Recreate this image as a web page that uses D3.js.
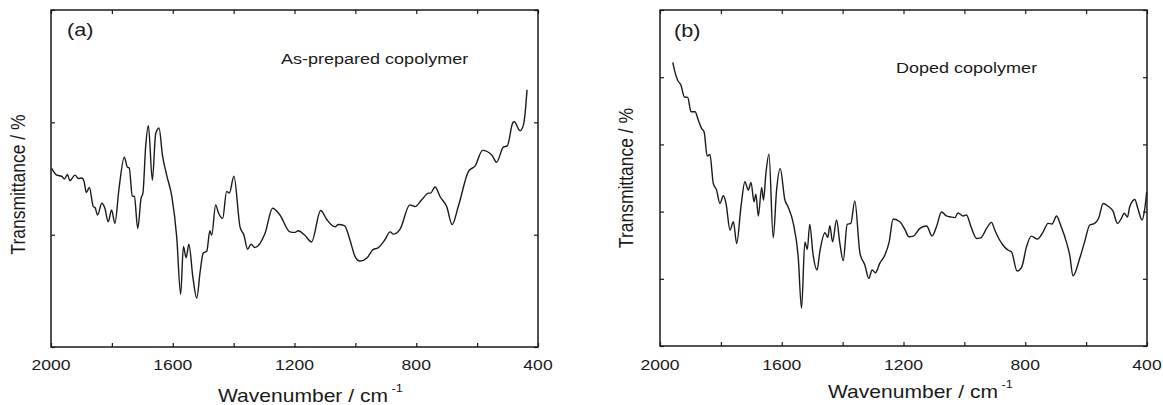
<!DOCTYPE html>
<html><head><meta charset="utf-8">
<script src="https://cdn.jsdelivr.net/npm/d3@7"></script>
<style>
body{margin:0;background:#fff}
svg{display:block;background:#fff}
text{font-family:"Liberation Sans",Arial,Helvetica,sans-serif;fill:#1a1a1a}
</style>
</head><body>
<svg id="c" width="1163" height="405"></svg>
<script>
// ---- data ----
const waveA = [1998,1981,1965,1956,1946,1938,1921,1910,1899,1891,
  1884,1874,1861,1855,1847,1833,1823,1812,1801,1790,
  1777,1759,1749,1743,1733,1726,1715,1704,1698,1689,
  1680,1667,1656,1645,1634,1620,1603,1587,1574,1565,
  1556,1547,1534,1521,1510,1500,1488,1478,1472,1459,
  1450,1436,1423,1414,1399,1379,1366,1354,1343,1330,
  1297,1272,1248,1215,1198,1188,1166,1144,1114,1094,
  1067,1056,1036,1018,1001,985,961,941,927,903,
  886,875,853,821,804,782,760,753,738,722,
  700,682,662,627,607,582,552,536,514,501,
  483,478,459,448,443,436];
const transA = [71.8,70.6,70.4,69.9,70.7,69.6,70.6,70.0,70.1,69.4,
  67.5,68.4,65.0,64.8,63.5,65.6,64.7,62.3,64.4,62.0,
  68.0,73.8,72.0,71.9,66.9,66.8,61.1,66.5,67.4,75.7,
  79.4,69.7,78.0,79.0,74.2,70.6,66.8,59.6,49.4,57.9,
  55.9,58.3,52.5,48.7,53.4,56.7,57.1,60.7,59.9,65.3,
  63.9,62.9,67.7,67.4,70.4,61.4,59.9,57.4,58.3,57.7,
  60.2,64.7,63.5,60.5,60.4,60.7,59.9,58.7,64.3,62.7,
  61.4,61.8,61.6,59.1,56.1,55.3,55.9,57.4,57.6,59.1,
  60.5,60.1,61.0,65.3,65.0,66.2,67.4,67.4,68.5,66.8,
  65.0,61.8,65.0,71.4,72.2,75.0,74.2,72.9,75.6,75.8,
  79.9,80.1,78.5,79.5,81.3,85.8];
const waveB = [1958,1951,1942,1931,1920,1909,1898,1885,1874,1863,
  1855,1845,1836,1825,1814,1803,1792,1783,1770,1759,
  1748,1734,1721,1710,1701,1691,1685,1677,1666,1660,
  1652,1642,1628,1617,1605,1590,1579,1562,1546,1535,
  1524,1516,1508,1497,1484,1475,1458,1449,1442,1433,
  1420,1409,1398,1385,1373,1360,1343,1327,1314,1303,
  1292,1278,1261,1247,1234,1212,1196,1182,1168,1146,
  1124,1106,1091,1075,1059,1045,1031,1021,1004,993,
  979,960,946,927,911,900,887,873,856,845,
  827,812,796,780,760,741,725,712,697,684,
  665,654,643,621,605,588,572,559,544,528,
  512,497,484,475,464,457,440,430,416,408,401];
const transB = [84.4,81.6,79.1,77.6,74.1,74.0,69.7,69.7,67.2,64.7,
  63.7,56.5,57.0,48.4,46.4,42.4,44.7,42.4,34.5,37.0,
  30.5,41.4,48.9,46.4,48.7,42.9,45.2,38.7,47.2,43.4,
  51.4,57.1,32.2,46.4,52.8,43.6,41.4,36.5,26.6,11.2,
  31.0,28.8,36.2,27.1,22.6,28.0,33.7,32.3,35.8,31.0,
  37.5,30.5,25.4,36.2,36.5,43.2,27.6,24.1,20.1,22.6,
  21.8,24.6,27.1,31.0,37.8,37.0,34.8,32.5,32.7,35.0,
  35.7,32.7,35.7,39.9,38.7,38.4,38.2,39.6,38.7,39.0,
  35.7,32.0,32.2,35.0,36.8,34.5,32.0,30.0,28.5,28.0,
  22.3,23.4,29.5,32.7,31.8,34.0,36.5,36.3,38.7,36.0,
  31.0,27.1,20.9,26.1,31.0,36.0,36.5,38.0,42.4,41.6,
  40.2,36.5,38.0,39.5,38.4,41.4,43.6,40.9,37.5,40.4,45.8];
const xTicks = [2000,1800,1600,1400,1200,1000,800,600,400];
const xTickLabels = [2000,1600,1200,800,400];
const yDomainA = [40,100];
const yTicksA = [40,60,80,100];
const yDomainB = [0,100];
const yTicksB = [0,20,40,60,80,100];
const panelLabels = ["(a)","(b)"];
const sampleNames = ["As-prepared copolymer","Doped copolymer"];
const xTitle = "Wavenumber / cm";
const xTitleSup = "-1";
const yTitle = "Transmittance / %";

// ---- drawing ----
const svg = d3.select("#c");
const S = 1.17; // horizontal text stretch of the reference
const ink = "#1a1a1a";

const panels = [
  {box:{l:51,t:10,r:538,b:347}, wave:waveA, trans:transA, yDom:yDomainA, yTicks:yTicksA,
   label:panelLabels[0], labelPos:[67,35.5], name:sampleNames[0], namePos:[281,63.5],
   titlePos:[218,401.5], yTitlePos:[25,184.5]},
  {box:{l:660,t:10,r:1147,b:346}, wave:waveB, trans:transB, yDom:yDomainB, yTicks:yTicksB,
   label:panelLabels[1], labelPos:[674,36.5], name:sampleNames[1], namePos:[896,72.5],
   titlePos:[828,398], yTitlePos:[633,178]}
];

function txt(g, x, y, s, size, anchor){
  return g.append("text")
    .attr("transform", `translate(${x},${y}) scale(${S},1)`)
    .attr("text-anchor", anchor).attr("font-size", size).text(s);
}

panels.forEach(p => {
  const g = svg.append("g");
  const x = d3.scaleLinear().domain([2000,400]).range([p.box.l, p.box.r]);
  const y = d3.scaleLinear().domain(p.yDom).range([p.box.b, p.box.t]);

  const tk = 4;
  const axes = [
    [d3.axisBottom(x).tickValues(xTicks), `translate(0,${p.box.b})`],
    [d3.axisTop(x).tickValues(xTicks), `translate(0,${p.box.t})`],
    [d3.axisLeft(y).tickValues(p.yTicks), `translate(${p.box.l},0)`],
    [d3.axisRight(y).tickValues(p.yTicks), `translate(${p.box.r},0)`]
  ];
  axes.forEach(([ax, tr]) => {
    const a = g.append("g").attr("transform", tr)
      .call(ax.tickSizeInner(-tk).tickSizeOuter(0).tickFormat(""));
    a.select(".domain").remove();
    a.selectAll("line").attr("stroke", ink).attr("stroke-width", 1.2);
  });

  g.append("rect")
    .attr("x", p.box.l).attr("y", p.box.t)
    .attr("width", p.box.r - p.box.l).attr("height", p.box.b - p.box.t)
    .attr("fill", "none").attr("stroke", ink).attr("stroke-width", 1.5);

  xTickLabels.forEach(v => txt(g, x(v), 370, String(v), 15, "middle"));

  const data = p.wave.map((w,i) => [w, p.trans[i]]);
  g.append("path").datum(data)
    .attr("fill","none").attr("stroke", ink).attr("stroke-width", 1.4)
    .attr("stroke-linejoin","round")
    .attr("d", d3.line().x(d => x(d[0])).y(d => y(d[1])).curve(d3.curveMonotoneX));

  txt(g, p.labelPos[0], p.labelPos[1], p.label, 18.5, "start");
  txt(g, p.namePos[0], p.namePos[1], p.name, 15.4, "start");

  const t = txt(g, p.titlePos[0], p.titlePos[1], xTitle, 18, "start");
  t.append("tspan").attr("dx", 3).attr("dy", -10).attr("font-size", 11).text(xTitleSup);

  g.append("text")
    .attr("transform", `translate(${p.yTitlePos[0]},${p.yTitlePos[1]}) scale(${S},1) rotate(-90)`)
    .attr("text-anchor","middle").attr("font-size", 17.5).text(yTitle);
});
</script>
</body></html>
